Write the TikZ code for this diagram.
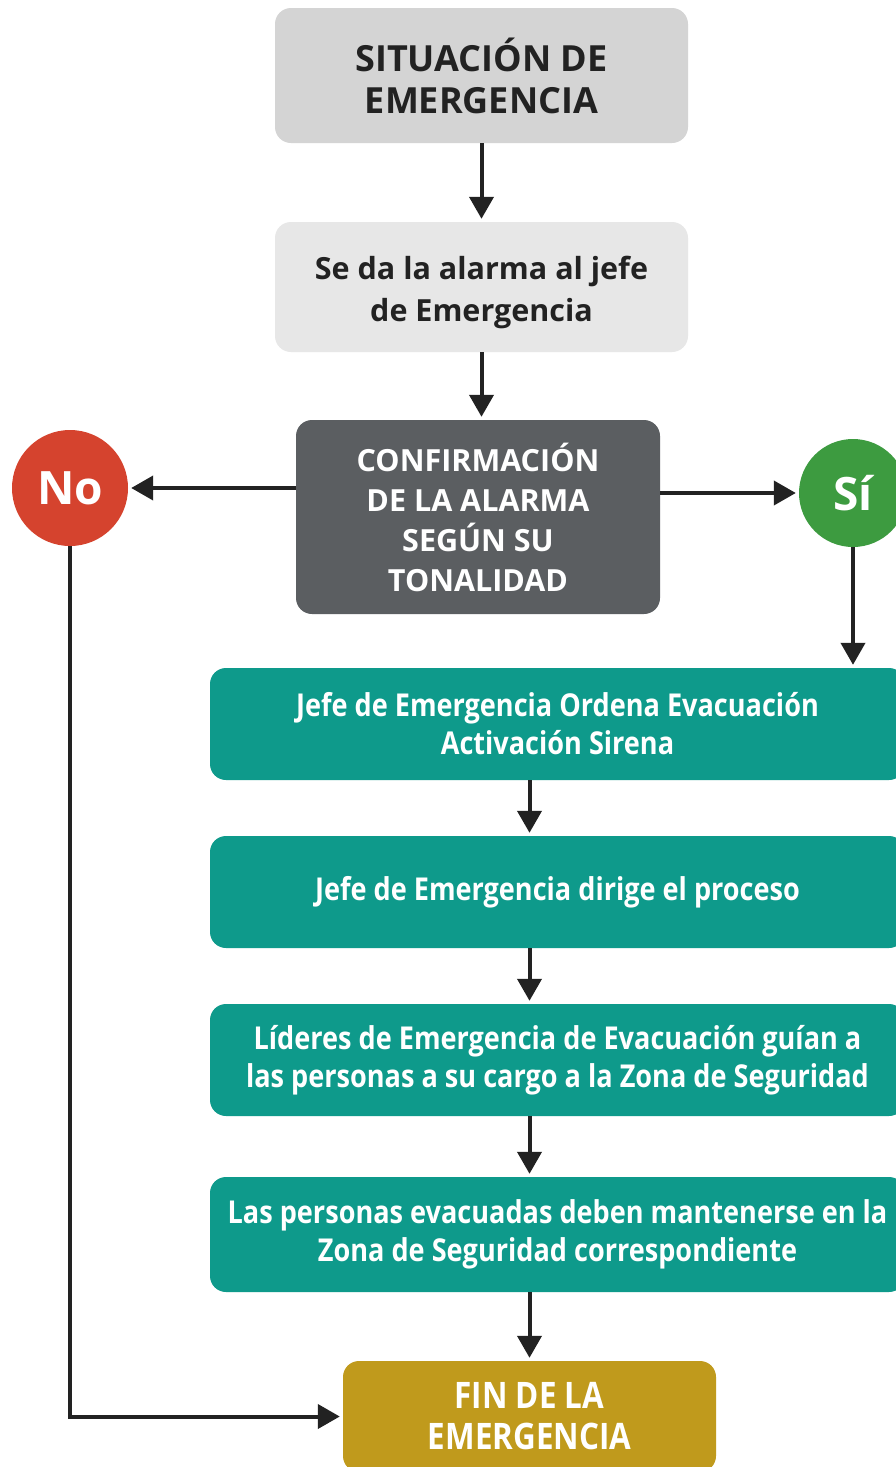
\documentclass[tikz,border=0pt]{standalone}
\usepackage{fontspec}
\setmainfont{Open Sans}
\newfontfamily\narrowfont{Open Sans}[FakeStretch=0.86]
\usetikzlibrary{arrows.meta,positioning}
\definecolor{sitgray}{HTML}{D4D4D4}
\definecolor{alagray}{HTML}{E7E7E7}
\definecolor{confgray}{HTML}{5B5E61}
\definecolor{nored}{HTML}{D5432E}
\definecolor{sigreen}{HTML}{3D9B40}
\definecolor{stepteal}{HTML}{0E9A8B}
\definecolor{fingold}{HTML}{C09A1C}
\definecolor{inkdark}{HTML}{222222}

\begin{document}
\begin{tikzpicture}[x=1pt,y=-1pt,
  box/.style={rounded corners=16pt,align=center,inner sep=0pt},
  tealbox/.style={box,fill=stepteal,text=white,minimum width=695pt,minimum height=112pt,
    font=\narrowfont\fontsize{31.5}{38}\selectfont\bfseries},
  answer/.style={circle,inner sep=0pt,text=white,font=\fontsize{46}{46}\selectfont\bfseries},
  arr/.style={line width=4pt,draw=inkdark,shorten >=3pt,-{Triangle[width=24pt,length=22pt]}}]
%
\clip (0,0) rectangle (896,1467);
\fill[white] (0,0) rectangle (896,1467);
%
\node[box,fill=sitgray,text=inkdark,minimum width=413pt,minimum height=135pt,
  font=\fontsize{36}{42}\selectfont\bfseries] (sit) at (481.5,75.5) {SITUACIÓN DE\\EMERGENCIA};
\node[box,fill=alagray,text=inkdark,minimum width=413pt,minimum height=130pt,
  font=\fontsize{30.5}{42}\selectfont\bfseries] (alarma) at (481.5,287) {\\[-8pt]Se da la alarma al jefe\\de Emergencia};
\node[box,fill=confgray,text=white,minimum width=364pt,minimum height=194pt,
  font=\fontsize{30.5}{40}\selectfont\bfseries] (conf) at (478,517) {CONFIRMACIÓN\\DE LA ALARMA\\SEGÚN SU\\TONALIDAD};
%
\node[answer,fill=nored,minimum size=116pt] (no) at (70,488) {No};
\node[answer,fill=sigreen,minimum size=108pt] (si) at (853,493) {Sí};
%
\node[tealbox] (orden) at (557.5,724) {Jefe de Emergencia Ordena Evacuación\\Activación Sirena};
\node[tealbox] (dirige) at (557.5,892) {Jefe de Emergencia dirige el proceso};
\node[tealbox] (lideres) at (557.5,1060) {Líderes de Emergencia de Evacuación guían a\\las personas a su cargo a la Zona de Seguridad};
\node[tealbox,minimum height=115pt] (zona) at (557.5,1234.5) {Las personas evacuadas deben mantenerse en la\\Zona de Seguridad correspondiente};
%
\node[box,fill=fingold,text=white,minimum width=373pt,minimum height=111pt,
  font=\narrowfont\fontsize{36.5}{41}\selectfont\bfseries] (fin) at (529.5,1416.5) {FIN DE LA\\EMERGENCIA};
%
\draw[arr] (sit.south) -- (alarma.north);
\draw[arr] (alarma.south) -- (alarma.south |- conf.north);
\draw[arr] (conf.west |- no.east) -- (no.east);
\draw[arr] (conf.east |- si.west) -- (si.west);
\draw[arr] (si.south) -- (si.south |- orden.north);
\draw[arr] (orden.south -| fin.north) -- (dirige.north -| fin.north);
\draw[arr] (dirige.south -| fin.north) -- (lideres.north -| fin.north);
\draw[arr] (lideres.south -| fin.north) -- (zona.north -| fin.north);
\draw[arr] (zona.south -| fin.north) -- (fin.north);
\draw[arr] (no.south) |- (fin.west);
\end{tikzpicture}
\end{document}
